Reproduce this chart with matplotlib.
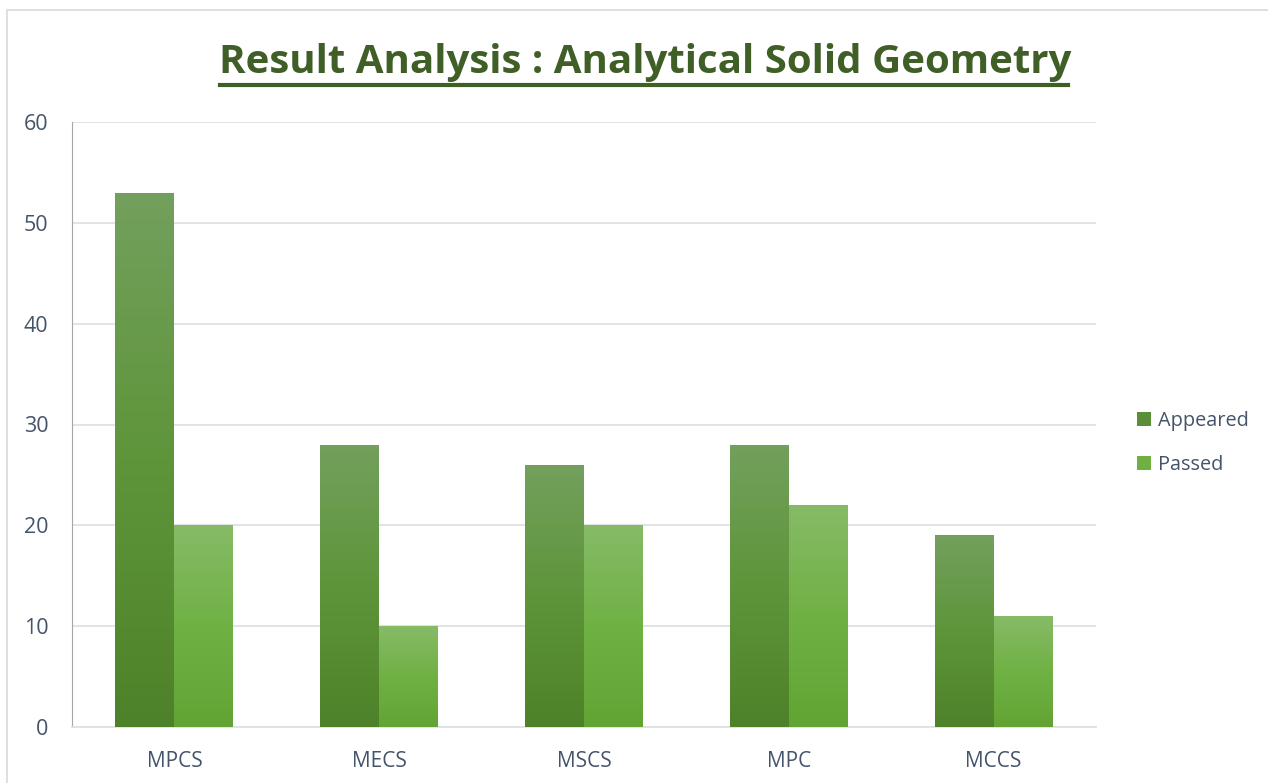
import numpy as np
import matplotlib
matplotlib.use('Agg')
import matplotlib.pyplot as plt
from matplotlib.colors import LinearSegmentedColormap
from matplotlib.patches import Rectangle, Patch

categories = ['MPCS', 'MECS', 'MSCS', 'MPC', 'MCCS']
appeared = [53, 28, 26, 28, 19]
passed = [20, 10, 20, 22, 11]
series_names = ['Appeared', 'Passed']
yticks = [0, 10, 20, 30, 40, 50, 60]

text_col = '#44546a'
title_col = '#3f5f26'

fig = plt.figure(figsize=(12.68, 7.83), dpi=100)
ax = fig.add_axes([72 / 1268, 56 / 783, 1024 / 1268, 605 / 783])

# faint chart border
fig.patches.append(Rectangle((7 / 1268, -0.01), 1.02, 1 - 10 / 783 + 0.01, transform=fig.transFigure,
                             fill=False, edgecolor='#d9d9d9', linewidth=1.2))

x = np.arange(len(categories))
w = 0.288

grads = {
    'Appeared': LinearSegmentedColormap.from_list('app', ['#4e822a', '#5e953a', '#73a05d']),
    'Passed': LinearSegmentedColormap.from_list('pas', ['#62a434', '#70b144', '#86bb67']),
}
solid = {'Appeared': '#5a8f37', 'Passed': '#6fb043'}

grad = np.linspace(0, 1, 256).reshape(-1, 1)
for name, vals, off in [('Appeared', appeared, -w / 2), ('Passed', passed, w / 2)]:
    bars = ax.bar(x + off, vals, w, color='none', edgecolor='none', zorder=3)
    for b in bars:
        x0, y0 = b.get_x(), b.get_y()
        im = ax.imshow(grad, cmap=grads[name], origin='lower', aspect='auto',
                       extent=[x0, x0 + b.get_width(), y0, y0 + b.get_height()], zorder=3)
        im.set_clip_path(b)

ax.set_xlim(-0.5, len(categories) - 0.5)
ax.set_ylim(0, 60)
ax.set_yticks(yticks)
ax.set_xticks(x)
ax.set_xticklabels(categories)
ax.grid(axis='y', color='#dde1e6', linewidth=1.3, zorder=0)
for s in ['top', 'right']:
    ax.spines[s].set_visible(False)
ax.spines['left'].set_color('#a6a6a6')
ax.spines['bottom'].set_color('#dde1e6')
ax.spines['bottom'].set_linewidth(1.3)
ax.tick_params(length=0, labelsize=15.5, labelcolor=text_col)
ax.tick_params(axis='y', pad=17)
ax.tick_params(axis='x', pad=17)
for lab in ax.get_yticklabels():
    lab.set_fontfamily('Open Sans')
for lab in ax.get_xticklabels():
    lab.set_fontfamily('Open Sans')
    lab.set_fontsize(15)

handles = [Patch(facecolor=solid[n], edgecolor='none') for n in series_names]
leg = fig.legend(handles, series_names, loc='upper left', bbox_to_anchor=(1119 / 1268, 1 - 393 / 783),
                 frameon=False, handlelength=0.72, handleheight=0.72, handletextpad=0.35,
                 labelspacing=1.2, prop={'family': 'Open Sans', 'size': 14.3})
for t in leg.get_texts():
    t.set_color(text_col)

title = fig.text(645 / 1268, 1 - 62 / 783, 'Result Analysis : Analytical Solid Geometry',
                 ha='center', va='center', fontsize=29, fontweight='bold', color=title_col,
                 family='Open Sans')
fig.add_artist(plt.Line2D([220 / 1268, 1068 / 1268], [1 - 85 / 783, 1 - 85 / 783],
                          color=title_col, linewidth=3, transform=fig.transFigure))

fig.savefig('out.png', dpi=100)
